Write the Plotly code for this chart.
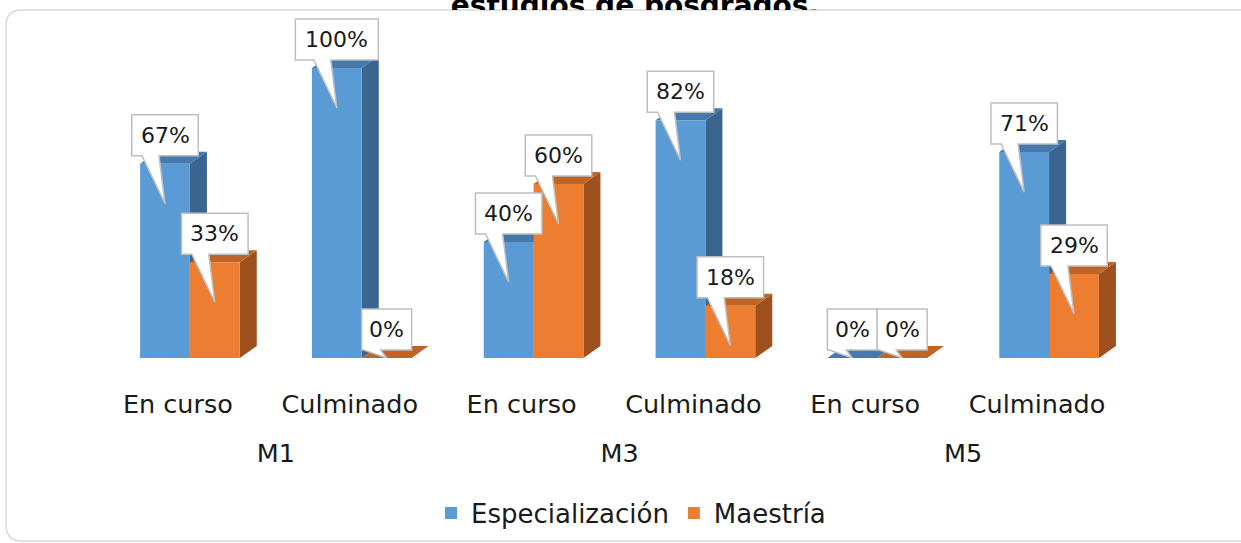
import plotly.graph_objects as go

# ---------------- data ----------------
categories = ["En curso", "Culminado", "En curso", "Culminado", "En curso", "Culminado"]
groups = ["M1", "M3", "M5"]
especializacion = [67, 100, 40, 82, 0, 71]
maestria = [33, 0, 60, 18, 0, 29]
series_names = ["Especialización", "Maestría"]
title_text = "estudios de posgrados."

# ---------------- layout geometry ----------------
W, H = 1241, 543
ML, MR, MT, MB = 104, 106, 0, 185
TOP_BAND = 10                      # pixels above the plot area (title band)
PW = W - ML - MR
PH = H - MT - MB - TOP_BAND        # height of the bar area
YMAX = 120
XMIN, XMAX = -0.5, len(categories) - 0.5
ppx = PW / (XMAX - XMIN)
ppy = PH / YMAX
FULL_H = H - MT - MB
YDOM_TOP = PH / FULL_H

BAR_W = 0.29
DX = 17 / ppx
DY = 12 / ppy
LABEL_SHIFT = 12 / ppx             # 3D floor: category labels sit slightly left

FONT = "DejaVu Sans"
colors = {
    "front": ["#5B9BD5", "#ED7D31"],
    "side": ["#3A6590", "#9E501E"],
    "top": ["#4678AC", "#BF6427"],
}

pos = list(range(len(categories)))
series_vals = [especializacion, maestria]
offsets = [-BAR_W, 0.0]


def faces(xls, vals):
    sx, sy, tx, ty = [], [], [], []
    for xl, v in zip(xls, vals):
        xr = xl + BAR_W
        sx += [xr, xr + DX, xr + DX, xr, xr, None]
        sy += [0, DY, v + DY, v, 0, None]
        tx += [xl, xl + DX, xr + DX, xr, xl, None]
        ty += [v, v + DY, v + DY, v, v, None]
    return sx, sy, tx, ty


fig = go.Figure()
z = 0
for i, (name, vals) in enumerate(zip(series_names, series_vals)):
    xls = [p + offsets[i] for p in pos]
    sx, sy, tx, ty = faces(xls, vals)
    fig.add_trace(go.Scatter(x=sx, y=sy, mode="lines", fill="toself",
                             fillcolor=colors["side"][i], line=dict(width=0),
                             hoverinfo="skip", showlegend=False, zorder=z))
    fig.add_trace(go.Scatter(x=tx, y=ty, mode="lines", fill="toself",
                             fillcolor=colors["top"][i], line=dict(width=0),
                             hoverinfo="skip", showlegend=False, zorder=z))
    fig.add_trace(go.Bar(x=pos, y=vals, width=BAR_W, offset=offsets[i], name=name,
                         marker=dict(color=colors["front"][i], line=dict(width=0)),
                         zorder=z + 1))
    z += 2

# ---------------- callouts ----------------
shapes = []
annotations = []
for i, vals in enumerate(series_vals):
    for p, v in zip(pos, vals):
        cx = p + offsets[i] + BAR_W / 2
        label = f"{v}%"
        w = 16.5 * len(label) + 17
        hw = w / 2
        tip = min(40, v * ppy)
        path = (f"M {-hw},49 L {hw},49 L {hw},8 L -6,8 L 0,{-tip} "
                f"L -23,8 L {-hw},8 Z")
        shapes.append(dict(type="path", xref="x", yref="y",
                           xsizemode="pixel", ysizemode="pixel",
                           xanchor=cx, yanchor=v, path=path,
                           fillcolor="white", line=dict(color="#BFBFBF", width=1.5),
                           layer="above"))
        annotations.append(dict(x=cx, y=v, xref="x", yref="y", text=label,
                                showarrow=False, yshift=28.5, yanchor="middle",
                                font=dict(family=FONT, size=22, color="#1a1a1a")))


# ---------------- chart border (rounded, right edge runs off the page) ----------------
def px2paper_x(px):
    return (px - ML) / PW


def px2paper_y(py):
    return (H - MB - py) / FULL_H


bx0, bx1 = px2paper_x(6), px2paper_x(1300)
by0, by1 = px2paper_y(541), px2paper_y(10)
rx, ry = 16 / PW, 16 / FULL_H
border = (f"M {bx0 + rx},{by1} L {bx1 - rx},{by1} Q {bx1},{by1} {bx1},{by1 - ry} "
          f"L {bx1},{by0 + ry} Q {bx1},{by0} {bx1 - rx},{by0} "
          f"L {bx0 + rx},{by0} Q {bx0},{by0} {bx0},{by0 + ry} "
          f"L {bx0},{by1 - ry} Q {bx0},{by1} {bx0 + rx},{by1} Z")
shapes.insert(0, dict(type="path", xref="paper", yref="paper", path=border,
                      line=dict(color="#D9D9D9", width=1.5), fillcolor="rgba(0,0,0,0)",
                      layer="below"))

group_pos = [(pos[2 * k] + pos[2 * k + 1]) / 2 for k in range(len(groups))]
label_pos = [p - LABEL_SHIFT for p in pos]

# title: text clipped by the chart area (only its upper band shows)
title_x = XMIN + (635 - ML) / ppx
fig.add_trace(go.Scatter(x=[title_x], y=[2.0], xaxis="x", yaxis="y3", mode="text",
                         text=[f"<b>{title_text}</b>"], textposition="middle center",
                         textfont=dict(family=FONT, size=28, color="#000000"),
                         cliponaxis=True, hoverinfo="skip", showlegend=False))

fig.update_layout(
    template="none",
    width=W, height=H,
    margin=dict(l=ML, r=MR, t=MT, b=MB, autoexpand=False),
    paper_bgcolor="white", plot_bgcolor="rgba(0,0,0,0)",
    barmode="overlay",
    showlegend=True,
    legend=dict(orientation="h", x=px2paper_x(631), y=px2paper_y(513),
                xanchor="center", yanchor="middle",
                font=dict(family=FONT, size=26, color="#1a1a1a"),
                bgcolor="rgba(0,0,0,0)"),
    xaxis=dict(range=[XMIN, XMAX], tickmode="array", tickvals=label_pos,
               ticktext=categories,
               showgrid=False, zeroline=False, showline=False, ticks="",
               tickfont=dict(family=FONT, size=25.5, color="#1a1a1a"),
               ticklabelstandoff=28, automargin=False, fixedrange=True),
    xaxis2=dict(range=[XMIN, XMAX], overlaying="x", anchor="y", side="bottom",
                tickmode="array", tickvals=group_pos, ticktext=groups,
                showgrid=False, zeroline=False, showline=False, ticks="",
                tickfont=dict(family=FONT, size=25.5, color="#1a1a1a"),
                ticklabelstandoff=77, automargin=False, fixedrange=True),
    yaxis=dict(range=[0, YMAX], domain=[0, YDOM_TOP], visible=False, showgrid=False,
               zeroline=False, fixedrange=True),
    yaxis3=dict(range=[0, TOP_BAND], domain=[YDOM_TOP, 1], visible=False,
                showgrid=False, zeroline=False, fixedrange=True),
    shapes=shapes,
    annotations=annotations,
)

# invisible trace to activate xaxis2
fig.add_trace(go.Scatter(x=group_pos, y=[0] * len(group_pos), xaxis="x2", yaxis="y",
                         mode="markers", marker=dict(opacity=0), hoverinfo="skip",
                         showlegend=False))

fig.write_html("out.html", config={"displayModeBar": False},
               post_script="document.body.style.margin='0px';")
